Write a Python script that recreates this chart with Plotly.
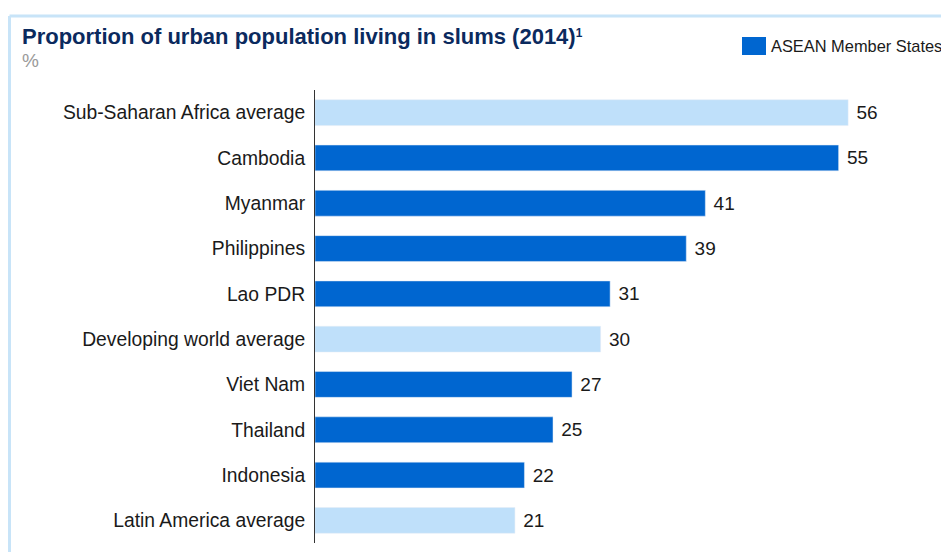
import plotly.graph_objects as go

categories = ["Sub-Saharan Africa average", "Cambodia", "Myanmar", "Philippines", "Lao PDR",
              "Developing world average", "Viet Nam", "Thailand", "Indonesia", "Latin America average"]
values = [56, 55, 41, 39, 31, 30, 27, 25, 22, 21]
is_asean = [False, True, True, True, True, False, True, True, True, False]
legend_label = "ASEAN Member States"

DARK = "#0066D0"
LIGHT = "#BFE0FA"

W, H = 941, 544
L, R, T, B = 307, 19, 82, 9
PW, PH = W - L - R, H - T - B


def px(x):
    return (x - L) / PW


def py(y):
    return (H - B - y) / PH


asean_cat = [c for c, a in zip(categories, is_asean) if a]
asean_val = [v for v, a in zip(values, is_asean) if a]
avg_cat = [c for c, a in zip(categories, is_asean) if not a]
avg_val = [v for v, a in zip(values, is_asean) if not a]

fig = go.Figure()
fig.add_trace(go.Bar(y=avg_cat, x=avg_val, orientation="h", marker_color=LIGHT,
                     texttemplate=" %{x}", textposition="outside", cliponaxis=False,
                     textfont=dict(size=19, color="#1a1a1a"), showlegend=False))
fig.add_trace(go.Bar(y=asean_cat, x=asean_val, orientation="h", marker_color=DARK,
                     texttemplate=" %{x}", textposition="outside", cliponaxis=False,
                     textfont=dict(size=19, color="#1a1a1a"), name=legend_label, showlegend=False))

fig.update_layout(
    width=W, height=H,
    margin=dict(l=L, r=R, t=T, b=B, autoexpand=False),
    paper_bgcolor="white", plot_bgcolor="white",
    barmode="overlay", bargap=0.43,
    font=dict(family="Liberation Sans, Arial, sans-serif", color="#1a1a1a"),
    xaxis=dict(range=[0, 64.6], visible=False),
    yaxis=dict(categoryorder="array", categoryarray=categories,
               range=[9.5, -0.5], showline=True, linecolor="#333333", linewidth=1,
               ticks="", tickfont=dict(size=19.3, color="#1a1a1a"), ticklabelstandoff=5,
               showgrid=False),
    showlegend=False,
)

fig.add_annotation(xref="paper", yref="paper", x=px(12), y=py(28), xanchor="left", yanchor="middle",
                   text="<b>Proportion of urban population living in slums (2014)</b><span style='font-size:17px'><b><sup>1</sup></b></span>",
                   showarrow=False, font=dict(size=22, color="#0B2A5E"))
fig.add_annotation(xref="paper", yref="paper", x=px(12), y=py(53), xanchor="left", yanchor="middle",
                   text="%", showarrow=False, font=dict(size=19, color="#9a9a9a"))

# legend (square + label)
fig.add_shape(type="rect", xref="paper", yref="paper",
              x0=px(734), x1=px(758), y0=py(47), y1=py(29),
              fillcolor=DARK, line=dict(width=0))
fig.add_annotation(xref="paper", yref="paper", x=px(761), y=py(38),
                   xanchor="left", yanchor="middle", text=legend_label, showarrow=False,
                   font=dict(size=16.4, color="#1a1a1a"))

# frame
fig.add_shape(type="line", xref="paper", yref="paper", x0=px(1.5), x1=px(W + 5), y0=py(8), y1=py(8),
              line=dict(color="#C8E4F8", width=3))
fig.add_shape(type="line", xref="paper", yref="paper", x0=px(1.5), x1=px(1.5), y0=py(8), y1=py(H + 5),
              line=dict(color="#C8E4F8", width=3))

fig.write_html("out.html")
